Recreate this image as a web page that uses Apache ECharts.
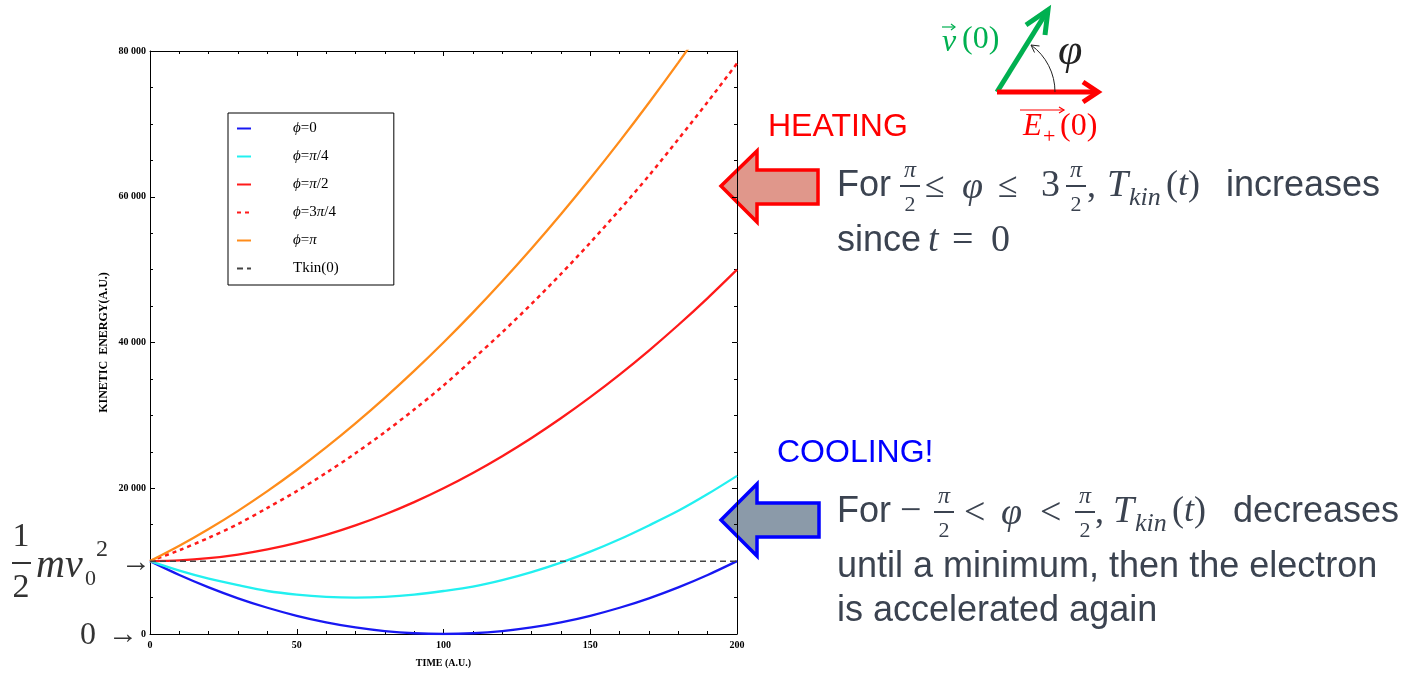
<!DOCTYPE html>
<html>
<head>
<meta charset="utf-8">
<script src="https://cdn.jsdelivr.net/npm/echarts@6/dist/echarts.min.js"></script>
<style>
  html, body { margin: 0; padding: 0; background: #fff; }
  #chart { width: 1419px; height: 673px; }
</style>
</head>
<body>
<div id="chart"></div>
<script>
// time samples (A.U.)
const time = [0, 10, 20, 30, 40, 50, 60, 70, 80, 90, 100, 110, 120, 130, 140, 150, 160, 170, 180, 190, 200]
// kinetic energy, one array per initial phase
const phi0 = [10000, 8100, 6400, 4900, 3600, 2500, 1600, 900, 400, 100, 0, 100, 400, 900, 1600, 2500, 3600, 4900, 6400, 8100, 10000]
const phiQuarter = [10000, 8700, 7600, 6700, 5900, 5400, 5100, 5000, 5100, 5400, 5900, 6500, 7400, 8500, 9800, 11300, 13000, 14900, 16900, 19200, 21700]
const phiHalf = [10000, 10100, 10400, 10900, 11600, 12500, 13600, 14900, 16400, 18100, 20000, 22100, 24400, 26900, 29600, 32500, 35600, 38900, 42400, 46100, 50000]
const phiThreeQuarter = [10000, 11500, 13200, 15100, 17300, 19600, 22100, 24800, 27700, 30800, 34100, 37700, 41400, 45300, 49400, 53700, 58200, 62900, 67900, 73000, 78300]
const phiPi = [10000, 12100, 14400, 16900, 19600, 22500, 25600, 28900, 32400, 36100, 40000, 44100, 48400, 52900, 57600, 62500, 67600, 72900, 78400, 84100]
const tkinTime = [0, 200]
const tkinValue = [10000, 10000]
const yTicks = [0, 20000, 40000, 60000, 80000]
const xTicks = [0, 50, 100, 150, 200]

const pairs = (xs, ys) => ys.map((v, i) => [xs[i], v])

const SANS = '"Liberation Sans", Arial, sans-serif'
const SERIF = '"Liberation Serif", "Times New Roman", serif'
const INK = '#3b4350'

// small helpers for the annotations around the plot
const txt = (x, y, text, font, fill, align) => ({
  type: 'text', x, y, silent: true,
  style: { text, font, fill, align: align || 'left', verticalAlign: 'middle' }
})
const bar = (x, y, w, fill) => ({
  type: 'rect', silent: true, shape: { x, y, width: w, height: 2 }, style: { fill: fill || INK }
})
const poly = (points, stroke, width) => ({
  type: 'polyline', silent: true, shape: { points },
  style: { stroke, lineWidth: width, fill: null, lineJoin: 'miter' }
})
// pi over 2, centered at cx
const frac = (cx, cy) => [
  txt(cx, cy - 15, 'π', 'italic 24px ' + SERIF, INK, 'center'),
  bar(cx - 10, cy - 1, 20),
  txt(cx, cy + 19, '2', '22px ' + SERIF, INK, 'center')
]
const parenT = (x, y, fill) => ({
  type: 'text', x, y, silent: true,
  style: {
    text: '{a|(}{b|t}{a|)}', fill, align: 'left', verticalAlign: 'middle',
    rich: {
      a: { font: '36px ' + SERIF, fill },
      b: { font: 'italic 36px ' + SERIF, fill }
    }
  }
})

const chart = echarts.init(document.getElementById('chart'))

const axisText = { fontFamily: SERIF, fontWeight: 'bold', fontSize: 10, color: '#000' }
const spaced = v => String(v).replace(/\B(?=(\d{3})+(?!\d))/g, ' ')
const frameLine = { show: true, onZero: false, lineStyle: { color: '#000', width: 1 } }
const tick = { inside: true, length: 5, lineStyle: { color: '#000' } }

const option = {
  backgroundColor: '#fff',
  animation: false,
  grid: { left: 150, right: 682, top: 51, bottom: 37 },
  legend: {
    orient: 'vertical',
    left: 228,
    top: 113,
    padding: [8, 55, 9, 8],
    backgroundColor: '#fff',
    borderColor: '#000',
    borderWidth: 1,
    itemWidth: 14,
    itemHeight: 14,
    itemGap: 13,
    selectedMode: false,
    itemStyle: { opacity: 0 },
    textStyle: { fontFamily: SERIF, fontSize: 15, lineHeight: 14, color: '#000', padding: [0, 0, 0, 37] },
    formatter: name => name.replace(/([ϕπ])/g, '{i|$1}'),
    data: ['ϕ=0', 'ϕ=π/4', 'ϕ=π/2', 'ϕ=3π/4', 'ϕ=π', 'Tkin(0)']
  },
  xAxis: [
    {
      type: 'value', min: 0, max: 200, interval: 50,
      name: 'TIME (A.U.)', nameLocation: 'middle', nameGap: 24,
      nameTextStyle: axisText,
      axisLine: frameLine,
      axisTick: tick,
      minorTick: { show: true, splitNumber: 5, length: 3, lineStyle: { color: '#000' } },
      axisLabel: { ...axisText, margin: 6, formatter: v => xTicks.includes(v) ? String(v) : '' },
      splitLine: { show: false }
    },
    {
      type: 'value', min: 0, max: 200, interval: 50, position: 'top',
      axisLine: frameLine,
      axisTick: tick,
      minorTick: { show: true, splitNumber: 5, length: 3, lineStyle: { color: '#000' } },
      axisLabel: { show: false },
      splitLine: { show: false }
    }
  ],
  yAxis: [
    {
      type: 'value', min: 0, max: 80000, interval: 20000,
      name: 'KINETIC  ENERGY(A.U.)', nameLocation: 'middle', nameGap: 40, nameRotate: 90,
      nameTextStyle: { ...axisText, fontSize: 12 },
      axisLine: frameLine,
      axisTick: tick,
      minorTick: { show: true, splitNumber: 4, length: 3, lineStyle: { color: '#000' } },
      axisLabel: { ...axisText, margin: 4, formatter: v => yTicks.includes(v) ? spaced(v) : '' },
      splitLine: { show: false }
    },
    {
      type: 'value', min: 0, max: 80000, interval: 20000, position: 'right',
      axisLine: frameLine,
      axisTick: tick,
      minorTick: { show: true, splitNumber: 4, length: 3, lineStyle: { color: '#000' } },
      axisLabel: { show: false },
      splitLine: { show: false }
    }
  ],
  series: [
    {
      name: 'ϕ=0', type: 'line', symbol: 'none', smooth: 0.3,
      lineStyle: { color: '#1818f2', width: 2.3 }, itemStyle: { color: '#1818f2' },
      data: pairs(time, phi0)
    },
    {
      name: 'ϕ=π/4', type: 'line', symbol: 'none', smooth: 0.3,
      lineStyle: { color: '#22f0f0', width: 2.3 }, itemStyle: { color: '#22f0f0' },
      data: pairs(time, phiQuarter)
    },
    {
      name: 'ϕ=π/2', type: 'line', symbol: 'none', smooth: 0.3,
      lineStyle: { color: '#ff1a1a', width: 2.3 }, itemStyle: { color: '#ff1a1a' },
      data: pairs(time, phiHalf)
    },
    {
      name: 'ϕ=3π/4', type: 'line', symbol: 'none', smooth: 0.3,
      lineStyle: { color: '#ff1a1a', width: 2.5, type: [4, 4] }, itemStyle: { color: '#ff1a1a' },
      data: pairs(time, phiThreeQuarter)
    },
    {
      name: 'ϕ=π', type: 'line', symbol: 'none', smooth: 0.3, clip: true,
      lineStyle: { color: '#ff8c1a', width: 2.3 }, itemStyle: { color: '#ff8c1a' },
      data: pairs(time, phiPi)
    },
    {
      name: 'Tkin(0)', type: 'line', symbol: 'none',
      lineStyle: { color: '#444', width: 1.5, type: [6, 4] }, itemStyle: { color: '#444' },
      data: pairs(tkinTime, tkinValue)
    }
  ],
  graphic: [
    // 1/2 m v0^2 ->
    txt(21, 537, '1', '34px ' + SERIF, '#333', 'center'),
    bar(12, 562, 19, '#333'),
    txt(21, 588, '2', '34px ' + SERIF, '#333', 'center'),
    txt(36, 566, 'mv', 'italic 40px ' + SERIF, '#333'),
    txt(85, 579, '0', '22px ' + SERIF, '#333'),
    txt(96, 550, '2', '24px ' + SERIF, '#333'),
    txt(121, 563, '→', '30px ' + SERIF, '#333'),
    // 0 ->
    txt(80, 636, '0', '32px ' + SERIF, '#333'),
    txt(108, 635, '→', '30px ' + SERIF, '#333'),

    // vector sketch
    poly([[997, 92], [1048, 10]], '#00b050', 5),
    poly([[1026, 25], [1048, 10], [1045, 35]], '#00b050', 5),
    poly([[997, 92], [1097, 92]], '#ff0000', 5),
    poly([[1083, 82], [1098, 92], [1083, 102]], '#ff0000', 5),
    {
      type: 'arc', silent: true,
      shape: { cx: 997, cy: 92, r: 58, startAngle: -54 * Math.PI / 180, endAngle: 0 },
      style: { stroke: '#222', lineWidth: 1, fill: null }
    },
    poly([[1034.5, 52.5], [1031, 45], [1039.5, 46]], '#222', 1),
    txt(942, 43, 'v', 'italic 32px ' + SERIF, '#00b050'),
    poly([[942, 27], [955, 27]], '#00b050', 1.2),
    poly([[951, 24], [955, 27], [951, 30]], '#00b050', 1.2),
    txt(962, 40, '(0)', '32px ' + SERIF, '#00b050'),
    txt(1058, 52, 'φ', 'italic 44px ' + SERIF, '#222'),
    txt(1023, 127, 'E', 'italic 31px ' + SERIF, '#ff0000'),
    txt(1043, 137, '+', '22px ' + SERIF, '#ff0000'),
    txt(1060, 127, '(0)', '32px ' + SERIF, '#ff0000'),
    poly([[1020, 110], [1064, 110]], '#ff0000', 1.2),
    poly([[1059, 107], [1064, 110], [1059, 113]], '#ff0000', 1.2),

    // heating
    txt(768, 127, 'HEATING', '32px ' + SANS, '#ff0000'),
    {
      type: 'polygon', silent: true,
      shape: { points: [[721, 186], [757, 151], [757, 170], [818, 170], [818, 204], [757, 204], [757, 222]] },
      style: { fill: '#e0978b', stroke: '#ff0000', lineWidth: 3.5, lineJoin: 'miter' }
    },
    txt(837, 186, 'For', '36px ' + SANS, INK),
    ...frac(910, 186),
    txt(925, 188, '≤', '36px ' + SERIF, INK),
    txt(962, 188, 'φ', 'italic 38px ' + SERIF, INK),
    txt(998, 188, '≤', '36px ' + SERIF, INK),
    txt(1041, 186, '3', '38px ' + SERIF, INK),
    ...frac(1076, 186),
    txt(1087, 188, ',', '36px ' + SERIF, INK),
    txt(1107, 186, 'T', 'italic 38px ' + SERIF, INK),
    txt(1129, 198, 'kin', 'italic 26px ' + SERIF, INK),
    parenT(1166, 186, INK),
    txt(1226, 186, 'increases', '36px ' + SANS, INK),
    txt(837, 241, 'since', '36px ' + SANS, INK),
    txt(928, 241, 't', 'italic 38px ' + SERIF, INK),
    txt(952, 241, '=', '38px ' + SERIF, INK),
    txt(991, 241, '0', '38px ' + SERIF, INK),

    // cooling
    txt(777, 453, 'COOLING!', '32px ' + SANS, '#0000ff'),
    {
      type: 'polygon', silent: true,
      shape: { points: [[721, 520], [757, 484], [757, 503], [819, 503], [819, 537], [757, 537], [757, 556]] },
      style: { fill: '#8b9aa9', stroke: '#0000ff', lineWidth: 3.5, lineJoin: 'miter' }
    },
    txt(837, 512, 'For', '36px ' + SANS, INK),
    txt(900, 512, '−', '38px ' + SERIF, INK),
    ...frac(944, 512),
    txt(964, 514, '<', '38px ' + SERIF, INK),
    txt(1001, 514, 'φ', 'italic 38px ' + SERIF, INK),
    txt(1040, 514, '<', '38px ' + SERIF, INK),
    ...frac(1085, 512),
    txt(1095, 514, ',', '36px ' + SERIF, INK),
    txt(1113, 512, 'T', 'italic 38px ' + SERIF, INK),
    txt(1135, 524, 'kin', 'italic 26px ' + SERIF, INK),
    parenT(1172, 512, INK),
    txt(1233, 512, 'decreases', '36px ' + SANS, INK),
    txt(837, 567, 'until a minimum, then the electron', '36px ' + SANS, INK),
    txt(837, 611, 'is accelerated again', '36px ' + SANS, INK)
  ]
}

option.legend.textStyle.rich = { i: { fontFamily: SERIF, fontStyle: 'italic', fontSize: 15, lineHeight: 14, color: '#000' } }
chart.setOption(option)
</script>
</body>
</html>
